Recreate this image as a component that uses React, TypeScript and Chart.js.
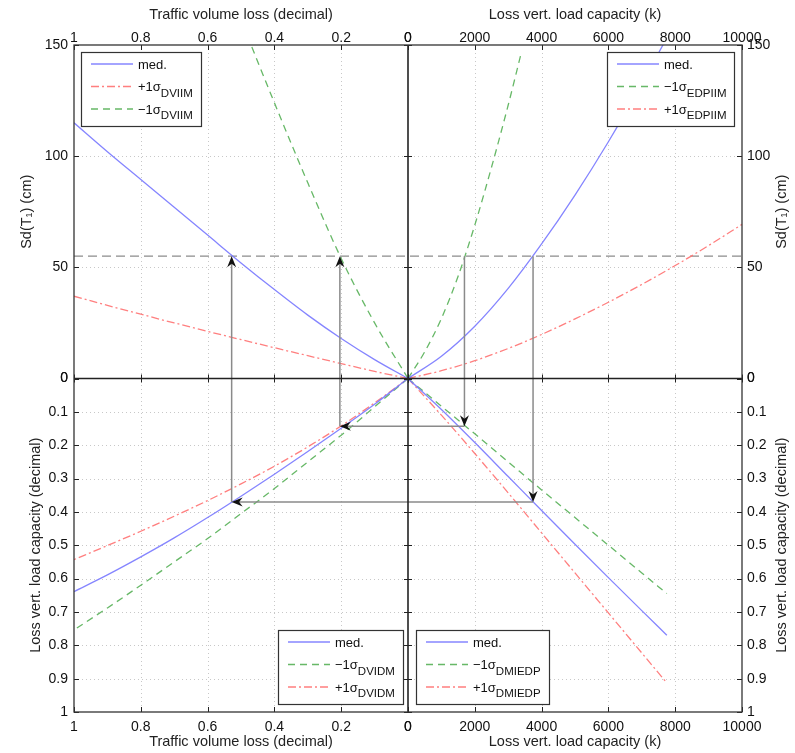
import React, { useEffect, useRef } from "react";
import { Chart, registerables } from "chart.js";

Chart.register(...registerables);

// ---------------- DATA ----------------
// Top-left quadrant: Sd(T1) (cm) vs traffic volume loss (decimal)
const trafficTL = [0, 0.1, 0.2, 0.3, 0.4, 0.5, 0.6, 0.7, 0.8, 0.9, 1.0];
const sdMedTL = [0, 8.5, 18, 28.5, 40, 52, 64.5, 77, 89.5, 102, 115];
const sdPlusTL = [0, 3.2, 6.7, 10.25, 13.85, 17.5, 21.2, 25, 28.9, 32.9, 37];
const trafficMinusTL = [0, 0.1, 0.2, 0.3, 0.4, 0.47];
const sdMinusTL = [0, 25, 54, 88, 124, 150];

// Top-right quadrant: Sd(T1) (cm) vs loss vert. load capacity (k)
const loadMedTR = [0, 1000, 2000, 3000, 4000, 5000, 6000, 7000, 7650];
const sdMedTR = [0, 10, 23.5, 40.5, 60.5, 82.5, 106.5, 132.5, 150.5];
const loadMinusTR = [0, 500, 1000, 1500, 2000, 2500, 3000, 3400];
const sdMinusTR = [0, 12, 27, 46, 69, 95, 123, 147];
const loadPlusTR = [0, 1000, 2000, 3000, 4000, 5000, 6000, 7000, 8000, 9000, 10000];
const sdPlusTR = [0, 3.5, 8, 13.5, 19.8, 26.8, 34.3, 42.3, 50.8, 59.8, 69.3];

// Bottom-left quadrant: loss vert. load capacity (decimal) vs traffic volume loss
const trafficBL = [0, 0.1, 0.2, 0.3, 0.4, 0.5, 0.6, 0.7, 0.8, 0.9, 1.0];
const lossMedBL = [0, 0.077, 0.149, 0.219, 0.287, 0.353, 0.417, 0.478, 0.535, 0.589, 0.639];
const lossMinusBL = [0, 0.085, 0.17, 0.25, 0.33, 0.405, 0.48, 0.55, 0.62, 0.688, 0.754];
const lossPlusBL = [0, 0.073, 0.142, 0.205, 0.263, 0.316, 0.366, 0.413, 0.458, 0.501, 0.543];

// Bottom-right quadrant: loss vert. load capacity (decimal) vs load capacity (k)
const loadBR = [0, 1000, 2000, 3000, 4000, 5000, 6000, 7000, 7750];
const lossMedBR = [0, 0.093, 0.192, 0.294, 0.396, 0.497, 0.597, 0.696, 0.77];
const lossMinusBR = [0, 0.083, 0.166, 0.25, 0.334, 0.417, 0.5, 0.583, 0.645];
const lossPlusBR = [0, 0.11, 0.225, 0.343, 0.463, 0.583, 0.703, 0.823, 0.913];

// Reading path (arrows) and reference level
const sdLevel = 55;
const arrowTraffic = [0.528, 0.204];
const arrowLoad = [3744, 1690];
const arrowLoss = [0.37, 0.143];

// Axis ticks
const trafficTicks = [0, 0.2, 0.4, 0.6, 0.8, 1];
const loadTicks = [0, 2000, 4000, 6000, 8000, 10000];
const sdTicks = [0, 50, 100, 150];
const lossTicks = [0, 0.1, 0.2, 0.3, 0.4, 0.5, 0.6, 0.7, 0.8, 0.9, 1];

// ---------------- STYLE ----------------
const FONT = '"Liberation Sans", Arial, Helvetica, sans-serif';
const BLUE = "rgba(120,120,255,0.9)";
const GREEN = "rgba(95,180,95,0.95)";
const RED = "rgba(255,120,120,0.95)";
const DASH_GREEN = [7, 5];
const DASH_RED = [8, 3, 2, 3];

const pts = (xs: number[], ys: number[]) => xs.map((x, i) => ({ x, y: ys[i] }));

function ds(label: string, xs: number[], ys: number[], xAxisID: string, yAxisID: string, kind: string, group: string) {
  const color = kind === "med" ? BLUE : kind === "minus" ? GREEN : RED;
  const dash = kind === "med" ? [] : kind === "minus" ? DASH_GREEN : DASH_RED;
  return {
    label,
    data: pts(xs, ys),
    xAxisID,
    yAxisID,
    borderColor: color,
    borderWidth: 1.3,
    borderDash: dash,
    pointRadius: 0,
    fill: false,
    cubicInterpolationMode: "monotone" as const,
    group,
  };
}

const datasets: any[] = [
  ds("med.", trafficTL, sdMedTL, "xt", "ys", "med", "TL"),
  ds("+1σ_DVIIM", trafficTL, sdPlusTL, "xt", "ys", "plus", "TL"),
  ds("−1σ_DVIIM", trafficMinusTL, sdMinusTL, "xt", "ys", "minus", "TL"),
  ds("med.", loadMedTR, sdMedTR, "xl", "ys", "med", "TR"),
  ds("−1σ_EDPIIM", loadMinusTR, sdMinusTR, "xl", "ys", "minus", "TR"),
  ds("+1σ_EDPIIM", loadPlusTR, sdPlusTR, "xl", "ys", "plus", "TR"),
  ds("med.", trafficBL, lossMedBL, "xt", "yl", "med", "BL"),
  ds("−1σ_DVIDM", trafficBL, lossMinusBL, "xt", "yl", "minus", "BL"),
  ds("+1σ_DVIDM", trafficBL, lossPlusBL, "xt", "yl", "plus", "BL"),
  ds("med.", loadBR, lossMedBR, "xl", "yl", "med", "BR"),
  ds("−1σ_DMIEDP", loadBR, lossMinusBR, "xl", "yl", "minus", "BR"),
  ds("+1σ_DMIEDP", loadBR, lossPlusBR, "xl", "yl", "plus", "BR"),
];

const fmt1 = (v: any) => String(Math.round(Number(v) * 10) / 10);
const fmt0 = (v: any) => String(Math.round(Number(v)));

function axis(o: {
  position: string; stack: string; weight: number; min: number; max: number;
  ticks: number[]; reverse?: boolean; fmt: (v: any) => string; size: number;
  pad: number; title?: string; titlePad?: any;
}) {
  const horiz = o.position === "top" || o.position === "bottom";
  return {
    type: "linear",
    position: o.position,
    stack: o.stack,
    stackWeight: 1,
    weight: o.weight,
    min: o.min,
    max: o.max,
    reverse: !!o.reverse,
    grid: { display: false, drawTicks: false },
    border: { display: false },
    afterBuildTicks: (sc: any) => {
      sc.ticks = o.ticks.map((v) => ({ value: v }));
    },
    ticks: {
      autoSkip: false,
      maxRotation: 0,
      minRotation: 0,
      padding: o.pad,
      color: "#111",
      font: { family: FONT, size: 14 },
      callback: o.fmt,
    },
    title: o.title
      ? { display: true, text: o.title, color: "#222", font: { family: FONT, size: 14.5 }, padding: o.titlePad }
      : { display: false },
    afterFit: (sc: any) => {
      if (horiz) sc.height = o.size;
      else sc.width = o.size;
    },
  };
}

const TOP = 45, BOTTOM = 41, LEFT = 74, RIGHT = 53;

const scales: any = {
  xt: axis({ position: "top", stack: "T", weight: 2, min: 0, max: 1, ticks: trafficTicks, reverse: true, fmt: fmt1, size: TOP, pad: -2, title: "Traffic volume loss (decimal)", titlePad: { top: 6, bottom: 0 } }),
  xl: axis({ position: "top", stack: "T", weight: 1, min: 0, max: 10000, ticks: loadTicks, fmt: fmt0, size: TOP, pad: -2, title: "Loss vert. load capacity (k)", titlePad: { top: 6, bottom: 0 } }),
  xtb: axis({ position: "bottom", stack: "B", weight: 1, min: 0, max: 1, ticks: trafficTicks, reverse: true, fmt: fmt1, size: BOTTOM, pad: 7, title: "Traffic volume loss (decimal)", titlePad: { top: 0, bottom: 2 } }),
  xlb: axis({ position: "bottom", stack: "B", weight: 2, min: 0, max: 10000, ticks: loadTicks, fmt: fmt0, size: BOTTOM, pad: 7, title: "Loss vert. load capacity (k)", titlePad: { top: 0, bottom: 2 } }),
  ys: axis({ position: "left", stack: "L", weight: 2, min: 0, max: 150, ticks: sdTicks, fmt: fmt0, size: LEFT, pad: 6, title: "Sd(T₁) (cm)", titlePad: { top: 18, bottom: 0 } }),
  yl: axis({ position: "left", stack: "L", weight: 1, min: 0, max: 1, ticks: lossTicks, reverse: true, fmt: fmt1, size: LEFT, pad: 6, title: "Loss vert. load capacity (decimal)", titlePad: { top: 27, bottom: 0 } }),
  ysr: axis({ position: "right", stack: "R", weight: 1, min: 0, max: 150, ticks: sdTicks, fmt: fmt0, size: RIGHT, pad: 5 }),
  ylr: axis({ position: "right", stack: "R", weight: 2, min: 0, max: 1, ticks: lossTicks, reverse: true, fmt: fmt1, size: RIGHT, pad: 5 }),
};

// ---------------- PLUGIN ----------------
function line(ctx: CanvasRenderingContext2D, x1: number, y1: number, x2: number, y2: number) {
  ctx.beginPath();
  ctx.moveTo(x1, y1);
  ctx.lineTo(x2, y2);
  ctx.stroke();
}

function arrowHead(ctx: CanvasRenderingContext2D, x: number, y: number, dx: number, dy: number) {
  const L = 11, W = 4.5, N = 3.5;
  const px = -dy, py = dx;
  ctx.beginPath();
  ctx.moveTo(x, y);
  ctx.lineTo(x - dx * L + px * W, y - dy * L + py * W);
  ctx.lineTo(x - dx * (L - N), y - dy * (L - N));
  ctx.lineTo(x - dx * L - px * W, y - dy * L - py * W);
  ctx.closePath();
  ctx.fill();
}

function drawLegend(ctx: CanvasRenderingContext2D, items: any[], place: (w: number, h: number) => [number, number]) {
  const mainFont = `13px ${FONT}`;
  const subFont = `11.5px ${FONT}`;
  let maxW = 0;
  const parts = items.map((d) => {
    const [m, s] = String(d.label).split("_");
    ctx.font = mainFont;
    const mw = ctx.measureText(m).width;
    ctx.font = subFont;
    const sw = s ? ctx.measureText(s).width : 0;
    maxW = Math.max(maxW, mw + sw);
    return { m, s, mw };
  });
  const w = Math.round(57 + maxW + 8);
  const h = 74;
  const [x, y] = place(w, h);
  ctx.save();
  ctx.fillStyle = "#fff";
  ctx.fillRect(x, y, w, h);
  ctx.strokeStyle = "#333";
  ctx.lineWidth = 1.2;
  ctx.setLineDash([]);
  ctx.strokeRect(x + 0.5, y + 0.5, w, h);
  items.forEach((d, i) => {
    const ry = y + 12 + i * 22.5;
    ctx.strokeStyle = d.borderColor;
    ctx.lineWidth = 1.3;
    ctx.setLineDash(d.borderDash || []);
    line(ctx, x + 10, ry, x + 52, ry);
    ctx.setLineDash([]);
    ctx.fillStyle = "#111";
    ctx.textBaseline = "middle";
    ctx.textAlign = "left";
    ctx.font = mainFont;
    ctx.fillText(parts[i].m, x + 57, ry + 1);
    if (parts[i].s) {
      ctx.font = subFont;
      ctx.fillText(parts[i].s, x + 57 + parts[i].mw, ry + 7);
    }
  });
  ctx.restore();
}

const quadPlugin = {
  id: "quadrants",
  beforeDatasetsDraw(chart: any) {
    const ctx: CanvasRenderingContext2D = chart.ctx;
    const a = chart.chartArea;
    const s = chart.scales;
    ctx.save();
    ctx.strokeStyle = "#c8c8c8";
    ctx.lineWidth = 1;
    ctx.setLineDash([1, 3]);
    for (const id of ["xt", "xl"]) {
      const sc = s[id];
      for (const t of sc.ticks) {
        if (t.value === sc.min || t.value === sc.max) continue;
        const x = Math.round(sc.getPixelForValue(t.value)) + 0.5;
        line(ctx, x, a.top, x, a.bottom);
      }
    }
    for (const id of ["ys", "yl"]) {
      const sc = s[id];
      for (const t of sc.ticks) {
        if (t.value === sc.min || t.value === sc.max) continue;
        const y = Math.round(sc.getPixelForValue(t.value)) + 0.5;
        line(ctx, a.left, y, a.right, y);
      }
    }
    ctx.strokeStyle = "#8c8c8c";
    ctx.lineWidth = 1.3;
    ctx.setLineDash([9, 5]);
    const yl = s.ys.getPixelForValue(sdLevel);
    line(ctx, a.left, yl, a.right, yl);
    ctx.restore();
  },
  afterDatasetsDraw(chart: any) {
    const ctx: CanvasRenderingContext2D = chart.ctx;
    const a = chart.chartArea;
    const s = chart.scales;
    const cx = s.xt.getPixelForValue(0);
    const cy = s.ys.getPixelForValue(0);
    ctx.save();
    const ySd = s.ys.getPixelForValue(sdLevel);
    for (let i = 0; i < arrowTraffic.length; i++) {
      const xT = s.xt.getPixelForValue(arrowTraffic[i]);
      const xL = s.xl.getPixelForValue(arrowLoad[i]);
      const yLs = s.yl.getPixelForValue(arrowLoss[i]);
      ctx.strokeStyle = "#8a8a8a";
      ctx.lineWidth = 1.5;
      ctx.setLineDash([]);
      line(ctx, xL, ySd, xL, yLs - 6);
      line(ctx, xL, yLs, xT + 6, yLs);
      line(ctx, xT, yLs, xT, ySd + 6);
      ctx.fillStyle = "#111";
      arrowHead(ctx, xL, yLs, 0, 1);
      arrowHead(ctx, xT, yLs, -1, 0);
      arrowHead(ctx, xT, ySd, 0, -1);
    }
    ctx.strokeStyle = "#222";
    ctx.lineWidth = 1.6;
    line(ctx, cx, a.top, cx, a.bottom);
    line(ctx, a.left, cy, a.right, cy);
    ctx.lineWidth = 1;
    for (const id of ["xt", "xl"]) {
      for (const t of s[id].ticks) {
        const x = Math.round(s[id].getPixelForValue(t.value)) + 0.5;
        line(ctx, x, cy - 4, x, cy + 4);
        line(ctx, x, a.top, x, a.top + 5);
        line(ctx, x, a.bottom, x, a.bottom - 5);
      }
    }
    for (const id of ["ys", "yl"]) {
      for (const t of s[id].ticks) {
        const y = Math.round(s[id].getPixelForValue(t.value)) + 0.5;
        line(ctx, cx - 4, y, cx + 4, y);
        line(ctx, a.left, y, a.left + 5, y);
        line(ctx, a.right, y, a.right - 5, y);
      }
    }
    ctx.strokeStyle = "#333";
    ctx.lineWidth = 1.3;
    ctx.strokeRect(a.left, a.top, a.right - a.left, a.bottom - a.top);
    ctx.restore();

    const dsets = chart.data.datasets;
    const grp = (g: string) => dsets.filter((d: any) => d.group === g);
    drawLegend(ctx, grp("TL"), () => [a.left + 7, a.top + 7]);
    drawLegend(ctx, grp("TR"), (w) => [a.right - 8 - w, a.top + 7]);
    drawLegend(ctx, grp("BL"), (w, h) => [cx - 5 - w, a.bottom - 8 - h]);
    drawLegend(ctx, grp("BR"), (w, h) => [cx + 8, a.bottom - 8 - h]);

    ctx.save();
    ctx.fillStyle = "#222";
    ctx.font = `14.5px ${FONT}`;
    ctx.textAlign = "center";
    ctx.textBaseline = "middle";
    const tx = a.right + 40;
    const titles: [string, number][] = [
      ["Sd(T₁) (cm)", (a.top + cy) / 2],
      ["Loss vert. load capacity (decimal)", (cy + a.bottom) / 2],
    ];
    for (const [t, ty] of titles) {
      ctx.save();
      ctx.translate(tx, ty);
      ctx.rotate(-Math.PI / 2);
      ctx.fillText(t, 0, 0);
      ctx.restore();
    }
    ctx.restore();
  },
};

export default function App() {
  const ref = useRef<HTMLCanvasElement>(null);
  useEffect(() => {
    document.body.style.margin = "0";
    const chart = new Chart(ref.current as HTMLCanvasElement, {
      type: "line",
      data: { datasets },
      options: {
        animation: false,
        responsive: false,
        maintainAspectRatio: false,
        layout: { padding: 0 },
        plugins: { legend: { display: false }, tooltip: { enabled: false }, title: { display: false } },
        elements: { point: { radius: 0 } },
        scales,
      } as any,
      plugins: [quadPlugin],
    });
    return () => chart.destroy();
  }, []);
  return (
    <div style={{ width: 795, height: 753 }}>
      <canvas ref={ref} width={795} height={753} style={{ display: "block" }} />
    </div>
  );
}
